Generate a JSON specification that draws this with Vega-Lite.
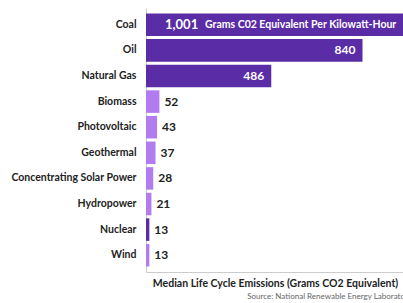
{
  "$schema": "https://vega.github.io/schema/vega-lite/v6.json",
  "width": 258,
  "height": 264,
  "padding": {"left": 10, "top": 8, "right": 0, "bottom": 0},
  "background": "white",
  "config": {"view": {"stroke": null}, "font": "Lato"},
  "title": {
    "text": "Source: National Renewable Energy Laboratory",
    "orient": "bottom",
    "anchor": "end",
    "fontSize": 8,
    "fontWeight": "normal",
    "color": "#666666",
    "font": "Lato",
    "offset": 4,
    "dx": 8
  },
  "data": {
    "values": [
      {"source": "Coal", "value": 1001, "group": "high", "label": ""},
      {"source": "Oil", "value": 840, "group": "high", "label": "840"},
      {"source": "Natural Gas", "value": 486, "group": "high", "label": "486"},
      {"source": "Biomass", "value": 52, "group": "low", "label": "52"},
      {"source": "Photovoltaic", "value": 43, "group": "low", "label": "43"},
      {"source": "Geothermal", "value": 37, "group": "low", "label": "37"},
      {"source": "Concentrating Solar Power", "value": 28, "group": "low", "label": "28"},
      {"source": "Hydropower", "value": 21, "group": "low", "label": "21"},
      {"source": "Nuclear", "value": 13, "group": "high", "label": "13"},
      {"source": "Wind", "value": 13, "group": "low", "label": "13"}
    ]
  },
  "encoding": {
    "y": {
      "field": "source",
      "type": "nominal",
      "sort": null,
      "scale": {"paddingInner": 0.12, "paddingOuter": 0.215},
      "axis": {
        "title": null,
        "ticks": false,
        "labelPadding": 10,
        "labelFontSize": 10.5,
        "labelFontWeight": "bold",
        "labelColor": "#222222",
        "labelFont": "Lato",
        "domainColor": "#cccccc",
        "domainWidth": 1
      }
    }
  },
  "layer": [
    {
      "mark": {"type": "bar"},
      "encoding": {
        "x": {
          "field": "value",
          "type": "quantitative",
          "scale": {"domain": [0, 1001], "nice": false},
          "axis": {
            "title": "Median Life Cycle Emissions (Grams CO2 Equivalent)",
            "titleFontSize": 10.5,
            "titleFontWeight": "bold",
            "titleColor": "#222222",
            "titleFont": "Lato",
            "titlePadding": 6,
            "labels": false,
            "ticks": false,
            "grid": false,
            "domainColor": "#cccccc"
          }
        },
        "color": {
          "field": "group",
          "type": "nominal",
          "scale": {"domain": ["high", "low"], "range": ["#5a2ca6", "#b27cf0"]},
          "legend": null
        }
      }
    },
    {
      "transform": [{"filter": "datum.group == 'low' || datum.source == 'Nuclear'"}],
      "mark": {"type": "text", "align": "left", "dx": 5, "fontSize": 12, "fontWeight": "bold", "color": "#222222", "font": "Lato"},
      "encoding": {
        "x": {"field": "value", "type": "quantitative"},
        "text": {"field": "label"}
      }
    },
    {
      "transform": [{"filter": "datum.source == 'Oil' || datum.source == 'Natural Gas'"}],
      "mark": {"type": "text", "align": "right", "dx": -7, "fontSize": 12, "fontWeight": "bold", "color": "white", "font": "Lato"},
      "encoding": {
        "x": {"field": "value", "type": "quantitative"},
        "text": {"field": "label"}
      }
    },
    {
      "transform": [{"filter": "datum.source == 'Coal'"}],
      "mark": {"type": "text", "align": "left", "dx": 19, "fontSize": 13, "fontWeight": "bold", "color": "white", "font": "Lato"},
      "encoding": {
        "x": {"datum": 0},
        "text": {"value": "1,001"}
      }
    },
    {
      "transform": [{"filter": "datum.source == 'Coal'"}],
      "mark": {"type": "text", "align": "left", "dx": 59, "fontSize": 10.5, "fontWeight": "bold", "color": "white", "font": "Lato"},
      "encoding": {
        "x": {"datum": 0},
        "text": {"value": "Grams C02 Equivalent Per Kilowatt-Hour"}
      }
    }
  ]
}
